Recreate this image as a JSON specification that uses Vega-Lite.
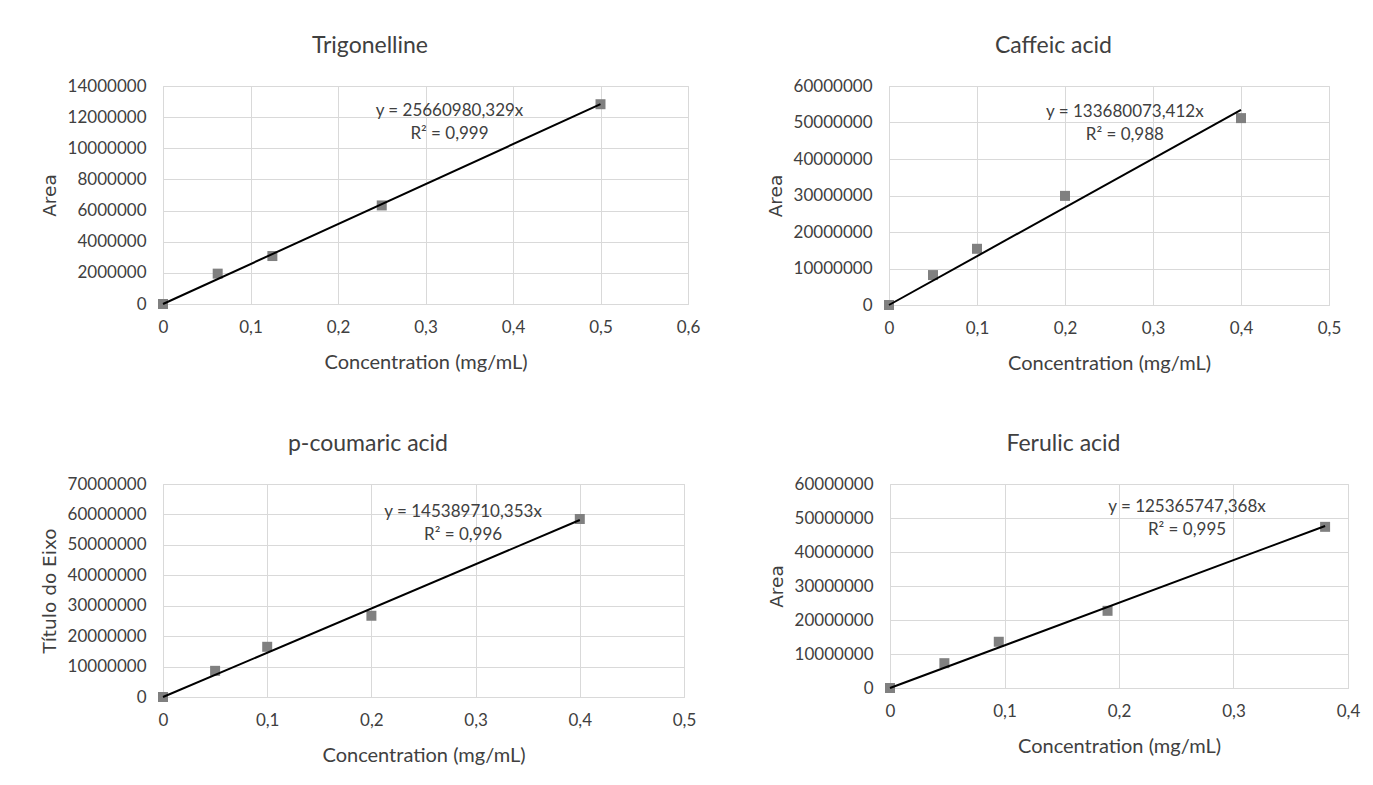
{
  "$schema": "https://vega.github.io/schema/vega-lite/v6.json",
  "background": "white",
  "padding": {"left": 39, "top": 34, "right": 5, "bottom": 5},
  "datasets": {
    "calibration": [
      {"compound": "Trigonelline", "conc": 0, "area": 0},
      {"compound": "Trigonelline", "conc": 0.0625, "area": 1950000},
      {"compound": "Trigonelline", "conc": 0.125, "area": 3080000},
      {"compound": "Trigonelline", "conc": 0.25, "area": 6330000},
      {"compound": "Trigonelline", "conc": 0.5, "area": 12830000},
      {"compound": "Caffeic acid", "conc": 0, "area": 0},
      {"compound": "Caffeic acid", "conc": 0.05, "area": 8200000},
      {"compound": "Caffeic acid", "conc": 0.1, "area": 15400000},
      {"compound": "Caffeic acid", "conc": 0.2, "area": 29900000},
      {"compound": "Caffeic acid", "conc": 0.4, "area": 51200000},
      {"compound": "p-coumaric acid", "conc": 0, "area": 0},
      {"compound": "p-coumaric acid", "conc": 0.05, "area": 8600000},
      {"compound": "p-coumaric acid", "conc": 0.1, "area": 16500000},
      {"compound": "p-coumaric acid", "conc": 0.2, "area": 26700000},
      {"compound": "p-coumaric acid", "conc": 0.4, "area": 58500000},
      {"compound": "Ferulic acid", "conc": 0, "area": 0},
      {"compound": "Ferulic acid", "conc": 0.0475, "area": 7300000},
      {"compound": "Ferulic acid", "conc": 0.095, "area": 13600000},
      {"compound": "Ferulic acid", "conc": 0.19, "area": 22700000},
      {"compound": "Ferulic acid", "conc": 0.38, "area": 47400000}
    ],
    "trend": [
      {"compound": "Trigonelline", "conc": 0, "area": 0},
      {"compound": "Trigonelline", "conc": 0.5, "area": 12830490.16},
      {"compound": "Caffeic acid", "conc": 0, "area": 0},
      {"compound": "Caffeic acid", "conc": 0.4, "area": 53472029.36},
      {"compound": "p-coumaric acid", "conc": 0, "area": 0},
      {"compound": "p-coumaric acid", "conc": 0.4, "area": 58155884.14},
      {"compound": "Ferulic acid", "conc": 0, "area": 0},
      {"compound": "Ferulic acid", "conc": 0.38, "area": 47638983.99}
    ],
    "fits": [
      {"compound": "Trigonelline", "label": "y = 25660980,329x\nR² = 0,999"},
      {"compound": "Caffeic acid", "label": "y = 133680073,412x\nR² = 0,988"},
      {"compound": "p-coumaric acid", "label": "y = 145389710,353x\nR² = 0,996"},
      {"compound": "Ferulic acid", "label": "y = 125365747,368x\nR² = 0,995"}
    ]
  },
  "vconcat": [
    {
      "spacing": 64,
      "hconcat": [
        {
          "title": "Trigonelline",
          "width": 525,
          "height": 218,
          "layer": [
            {
              "data": {"name": "calibration"},
              "transform": [{"filter": "datum.compound === 'Trigonelline'"}],
              "mark": {"type": "square", "size": 100, "color": "#808080", "opacity": 1},
              "encoding": {
                "x": {"field": "conc", "type": "quantitative", "scale": {"domain": [0, 0.6], "nice": false},
                      "axis": {"title": "Concentration (mg/mL)", "values": [0, 0.1, 0.2, 0.3, 0.4, 0.5, 0.6]}},
                "y": {"field": "area", "type": "quantitative", "scale": {"domain": [0, 14000000], "nice": false},
                      "axis": {"title": "Area", "values": [0, 2000000, 4000000, 6000000, 8000000, 10000000, 12000000, 14000000]}}
              }
            },
            {
              "data": {"name": "trend"},
              "transform": [{"filter": "datum.compound === 'Trigonelline'"}],
              "mark": {"type": "line", "color": "#000000", "strokeWidth": 2},
              "encoding": {
                "x": {"field": "conc", "type": "quantitative",
                      "axis": {"title": "Concentration (mg/mL)", "values": [0, 0.1, 0.2, 0.3, 0.4, 0.5, 0.6]}},
                "y": {"field": "area", "type": "quantitative",
                      "axis": {"title": "Area", "values": [0, 2000000, 4000000, 6000000, 8000000, 10000000, 12000000, 14000000]}}
              }
            },
            {
              "data": {"name": "fits"},
              "transform": [{"filter": "datum.compound === 'Trigonelline'"}],
              "mark": {"type": "text"},
              "encoding": {
                "x": {"datum": 0.3274, "type": "quantitative",
                      "axis": {"title": "Concentration (mg/mL)", "values": [0, 0.1, 0.2, 0.3, 0.4, 0.5, 0.6]}},
                "y": {"datum": 12400000, "type": "quantitative",
                      "axis": {"title": "Area", "values": [0, 2000000, 4000000, 6000000, 8000000, 10000000, 12000000, 14000000]}},
                "text": {"field": "label"}
              }
            }
          ]
        },
        {
          "title": "Caffeic acid",
          "width": 440,
          "height": 219,
          "layer": [
            {
              "data": {"name": "calibration"},
              "transform": [{"filter": "datum.compound === 'Caffeic acid'"}],
              "mark": {"type": "square", "size": 100, "color": "#808080", "opacity": 1},
              "encoding": {
                "x": {"field": "conc", "type": "quantitative", "scale": {"domain": [0, 0.5], "nice": false},
                      "axis": {"title": "Concentration (mg/mL)", "values": [0, 0.1, 0.2, 0.3, 0.4, 0.5]}},
                "y": {"field": "area", "type": "quantitative", "scale": {"domain": [0, 60000000], "nice": false},
                      "axis": {"title": "Area", "values": [0, 10000000, 20000000, 30000000, 40000000, 50000000, 60000000]}}
              }
            },
            {
              "data": {"name": "trend"},
              "transform": [{"filter": "datum.compound === 'Caffeic acid'"}],
              "mark": {"type": "line", "color": "#000000", "strokeWidth": 2},
              "encoding": {
                "x": {"field": "conc", "type": "quantitative",
                      "axis": {"title": "Concentration (mg/mL)", "values": [0, 0.1, 0.2, 0.3, 0.4, 0.5]}},
                "y": {"field": "area", "type": "quantitative",
                      "axis": {"title": "Area", "values": [0, 10000000, 20000000, 30000000, 40000000, 50000000, 60000000]}}
              }
            },
            {
              "data": {"name": "fits"},
              "transform": [{"filter": "datum.compound === 'Caffeic acid'"}],
              "mark": {"type": "text"},
              "encoding": {
                "x": {"datum": 0.268, "type": "quantitative",
                      "axis": {"title": "Concentration (mg/mL)", "values": [0, 0.1, 0.2, 0.3, 0.4, 0.5]}},
                "y": {"datum": 52900000, "type": "quantitative",
                      "axis": {"title": "Area", "values": [0, 10000000, 20000000, 30000000, 40000000, 50000000, 60000000]}},
                "text": {"field": "label"}
              }
            }
          ]
        }
      ]
    },
    {
      "spacing": 69,
      "hconcat": [
        {
          "title": "p-coumaric acid",
          "width": 521,
          "height": 213,
          "layer": [
            {
              "data": {"name": "calibration"},
              "transform": [{"filter": "datum.compound === 'p-coumaric acid'"}],
              "mark": {"type": "square", "size": 100, "color": "#808080", "opacity": 1},
              "encoding": {
                "x": {"field": "conc", "type": "quantitative", "scale": {"domain": [0, 0.5], "nice": false},
                      "axis": {"title": "Concentration (mg/mL)", "values": [0, 0.1, 0.2, 0.3, 0.4, 0.5]}},
                "y": {"field": "area", "type": "quantitative", "scale": {"domain": [0, 70000000], "nice": false},
                      "axis": {"title": "Título do Eixo", "values": [0, 10000000, 20000000, 30000000, 40000000, 50000000, 60000000, 70000000]}}
              }
            },
            {
              "data": {"name": "trend"},
              "transform": [{"filter": "datum.compound === 'p-coumaric acid'"}],
              "mark": {"type": "line", "color": "#000000", "strokeWidth": 2},
              "encoding": {
                "x": {"field": "conc", "type": "quantitative",
                      "axis": {"title": "Concentration (mg/mL)", "values": [0, 0.1, 0.2, 0.3, 0.4, 0.5]}},
                "y": {"field": "area", "type": "quantitative",
                      "axis": {"title": "Título do Eixo", "values": [0, 10000000, 20000000, 30000000, 40000000, 50000000, 60000000, 70000000]}}
              }
            },
            {
              "data": {"name": "fits"},
              "transform": [{"filter": "datum.compound === 'p-coumaric acid'"}],
              "mark": {"type": "text"},
              "encoding": {
                "x": {"datum": 0.288, "type": "quantitative",
                      "axis": {"title": "Concentration (mg/mL)", "values": [0, 0.1, 0.2, 0.3, 0.4, 0.5]}},
                "y": {"datum": 60650000, "type": "quantitative",
                      "axis": {"title": "Título do Eixo", "values": [0, 10000000, 20000000, 30000000, 40000000, 50000000, 60000000, 70000000]}},
                "text": {"field": "label"}
              }
            }
          ]
        },
        {
          "title": "Ferulic acid",
          "width": 458,
          "height": 204,
          "layer": [
            {
              "data": {"name": "calibration"},
              "transform": [{"filter": "datum.compound === 'Ferulic acid'"}],
              "mark": {"type": "square", "size": 100, "color": "#808080", "opacity": 1},
              "encoding": {
                "x": {"field": "conc", "type": "quantitative", "scale": {"domain": [0, 0.4], "nice": false},
                      "axis": {"title": "Concentration (mg/mL)", "values": [0, 0.1, 0.2, 0.3, 0.4]}},
                "y": {"field": "area", "type": "quantitative", "scale": {"domain": [0, 60000000], "nice": false},
                      "axis": {"title": "Area", "values": [0, 10000000, 20000000, 30000000, 40000000, 50000000, 60000000]}}
              }
            },
            {
              "data": {"name": "trend"},
              "transform": [{"filter": "datum.compound === 'Ferulic acid'"}],
              "mark": {"type": "line", "color": "#000000", "strokeWidth": 2},
              "encoding": {
                "x": {"field": "conc", "type": "quantitative",
                      "axis": {"title": "Concentration (mg/mL)", "values": [0, 0.1, 0.2, 0.3, 0.4]}},
                "y": {"field": "area", "type": "quantitative",
                      "axis": {"title": "Area", "values": [0, 10000000, 20000000, 30000000, 40000000, 50000000, 60000000]}}
              }
            },
            {
              "data": {"name": "fits"},
              "transform": [{"filter": "datum.compound === 'Ferulic acid'"}],
              "mark": {"type": "text"},
              "encoding": {
                "x": {"datum": 0.2594, "type": "quantitative",
                      "axis": {"title": "Concentration (mg/mL)", "values": [0, 0.1, 0.2, 0.3, 0.4]}},
                "y": {"datum": 53100000, "type": "quantitative",
                      "axis": {"title": "Area", "values": [0, 10000000, 20000000, 30000000, 40000000, 50000000, 60000000]}},
                "text": {"field": "label"}
              }
            }
          ]
        }
      ]
    }
  ],
  "spacing": 58,
  "config": {
    "font": "Lato",
    "view": {"stroke": "#d9d9d9", "strokeWidth": 1},
    "title": {"font": "Lato", "fontSize": 23, "fontWeight": "normal", "color": "#404040", "anchor": "middle", "frame": "bounds", "offset": 19},
    "axis": {
      "grid": true,
      "gridColor": "#d9d9d9",
      "gridWidth": 1,
      "domainColor": "#d9d9d9",
      "ticks": false,
      "labelFont": "Lato",
      "labelFontSize": 17,
      "labelColor": "#404040",
      "labelBound": false,
      "labelOverlap": false,
      "labelFlush": false,
      "titleColor": "#404040",
      "titleFontWeight": "normal"
    },
    "axisX": {
      "domain": true,
      "labelPadding": 15,
      "labelExpr": "replace(format(datum.value, '~g'), '.', ',')",
      "titleFont": "Lato",
      "titleFontSize": 20,
      "titlePadding": 17
    },
    "axisY": {
      "domain": false,
      "labelPadding": 17,
      "format": "d",
      "titleFont": "DejaVu Sans",
      "titleFontSize": 18.5,
      "titlePadding": 8
    },
    "text": {"font": "Lato", "fontSize": 17, "color": "#404040", "align": "center", "baseline": "middle", "lineBreak": "\n", "lineHeight": 23}
  }
}
